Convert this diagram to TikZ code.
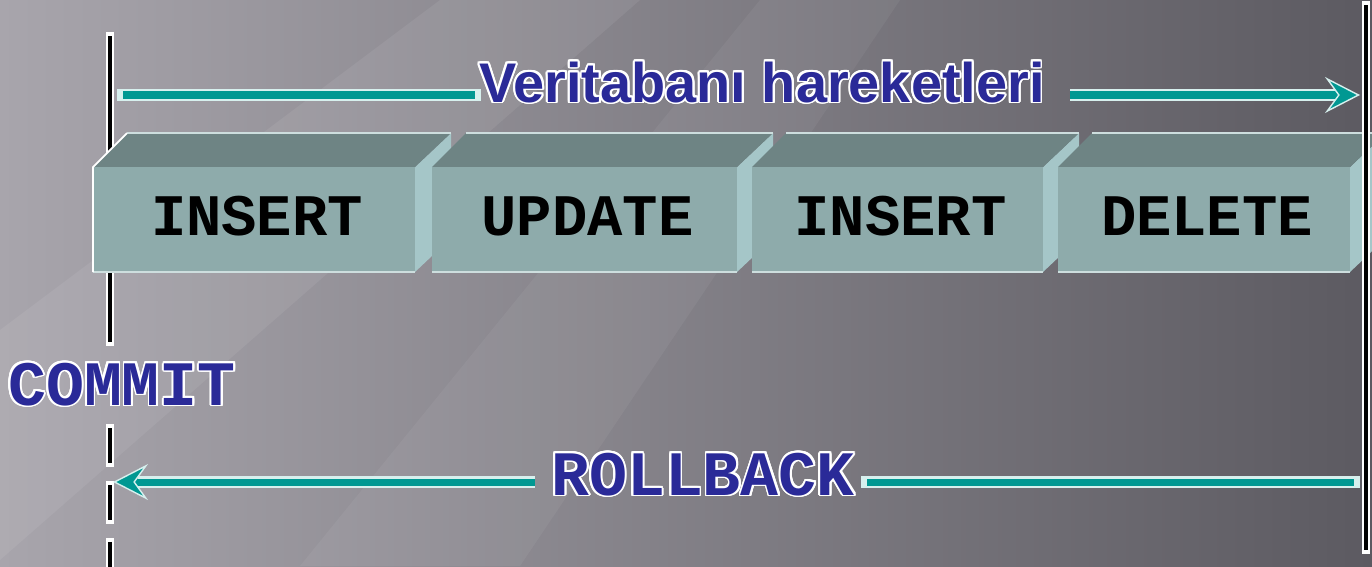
\documentclass[tikz,border=0pt]{standalone}
\usepackage{fontspec}
\usepackage[copies]{contour}
\usetikzlibrary{arrows.meta}
\newfontfamily\opfont{Liberation Mono}[UprightFont=* Bold]
\newfontfamily\titlefont{Liberation Sans}[UprightFont=* Bold]
\contourlength{1.1pt}
\contournumber{20}
\definecolor{bgleft}{RGB}{168,165,172}
\definecolor{bgright}{RGB}{92,90,97}
\definecolor{flowteal}{RGB}{0,152,146}
\definecolor{flowedge}{RGB}{215,240,238}
\definecolor{labelblue}{RGB}{42,42,152}
\definecolor{frontcol}{RGB}{142,171,171}
\definecolor{topcol}{RGB}{110,132,132}
\definecolor{sidecol}{RGB}{165,198,200}
\definecolor{rimcol}{RGB}{205,222,222}

\begin{document}
\begin{tikzpicture}[x=0.02cm,y=-0.02cm,
  flow/.style={draw=flowteal,line width=4pt},
  rim/.style={preaction={draw=flowedge,line width=6.8pt,-,#1}},
  rim/.default={line cap=rect},
  tipend/.style={-{Stealth[length=0.7cm,width=0.72cm,inset=0.26cm,line width=0.8pt,color=flowedge,fill=flowteal]}},
  tipstart/.style={{Stealth[length=0.7cm,width=0.72cm,inset=0.26cm,line width=0.8pt,color=flowedge,fill=flowteal]}-},
  vline/.style={draw=black,line width=2.8pt,preaction={draw=white,line width=4.8pt,line cap=rect}},
  vdash/.style={draw=black,line width=2.8pt,dash pattern=on 0.7cm off 0.44cm,
    preaction={draw=white,line width=4.8pt,line cap=rect,dash pattern=on 0.7cm off 0.44cm}},
  optext/.style={font=\opfont\fontsize{33.5}{34}\selectfont,anchor=base,inner sep=0pt},
  lbl/.style={font=\opfont\fontsize{36}{36}\selectfont,text=labelblue,anchor=base,inner sep=0pt},
  ttl/.style={font=\titlefont\fontsize{31.8}{32}\selectfont,text=labelblue,anchor=base,inner sep=0pt}]
\useasboundingbox (0,0) rectangle (1372,566);

% background
\fill[left color=bgleft,right color=bgright] (0,0) rectangle (1372,566);
\fill[white,opacity=0.07] (440,0) -- (640,0) -- (0,560) -- (0,330) -- cycle;
\fill[white,opacity=0.05] (300,566) -- (520,566) -- (900,0) -- (760,0) -- cycle;

% commit line
\coordinate (ctop) at (110,36);
\coordinate (cbot) at (110,342);
\coordinate (dtop) at (110,428);
\coordinate (dbot) at (110,572);
\draw[vline] (ctop) -- (cbot);
\draw[vdash] (dtop) -- (dbot);

% operations
\foreach \xa/\xb/\op/\nm in {93/415/INSERT/opa,432/737/UPDATE/opb,752/1043/INSERT/opc,1058/1350/DELETE/opd}{
  \fill[sidecol] (\xb,167) -- ({\xb+36},133) -- ({\xb+36},238) -- (\xb,272) -- cycle;
  \fill[topcol] (\xa,167) -- ({\xa+34},133) -- ({\xb+36},133) -- (\xb,167) -- cycle;
  \fill[frontcol] (\xa,167) rectangle (\xb,272);
  \draw[rimcol,line width=1.2pt] ({\xa+34},133) -- ({\xb+36},133);
  \draw[rimcol,line width=1pt] (\xa,272) -- (\xb,272);
  \node[optext] (\nm) at ({(\xa+\xb)/2+3},235) {\op};
}
\draw[white,line width=1pt] (93,272) -- (93,167) -- (127,133);

% end line
\coordinate (etop) at (1366,5);
\coordinate (ebot) at (1366,550);
\draw[vline] (etop) -- (ebot);

% labels
\node[ttl] (title) at (762,102) {\contour{white}{Veritabanı hareketleri}};
\node[lbl] (commit) at (122,405) {\contour{white}{COMMIT}};
\node[lbl] (rollback) at (703,495) {\contour{white}{ROLLBACK}};

% arrows
\coordinate (ta) at (123,95);
\coordinate (tb) at (475,95);
\coordinate (tc) at (1070,95);
\coordinate (td) at (1360,95);
\draw[flow,rim] (ta) -- (tb);
\draw[flow,tipend,rim={shorten >=0.5cm}] (tc) -- (td);
\coordinate (ra) at (113,482);
\coordinate (rb) at (535,482);
\coordinate (rc) at (867,482);
\coordinate (rd) at (1354,482);
\draw[flow,tipstart,rim={shorten <=0.5cm}] (ra) -- (rb);
\draw[flow,rim] (rc) -- (rd);
\end{tikzpicture}
\end{document}
